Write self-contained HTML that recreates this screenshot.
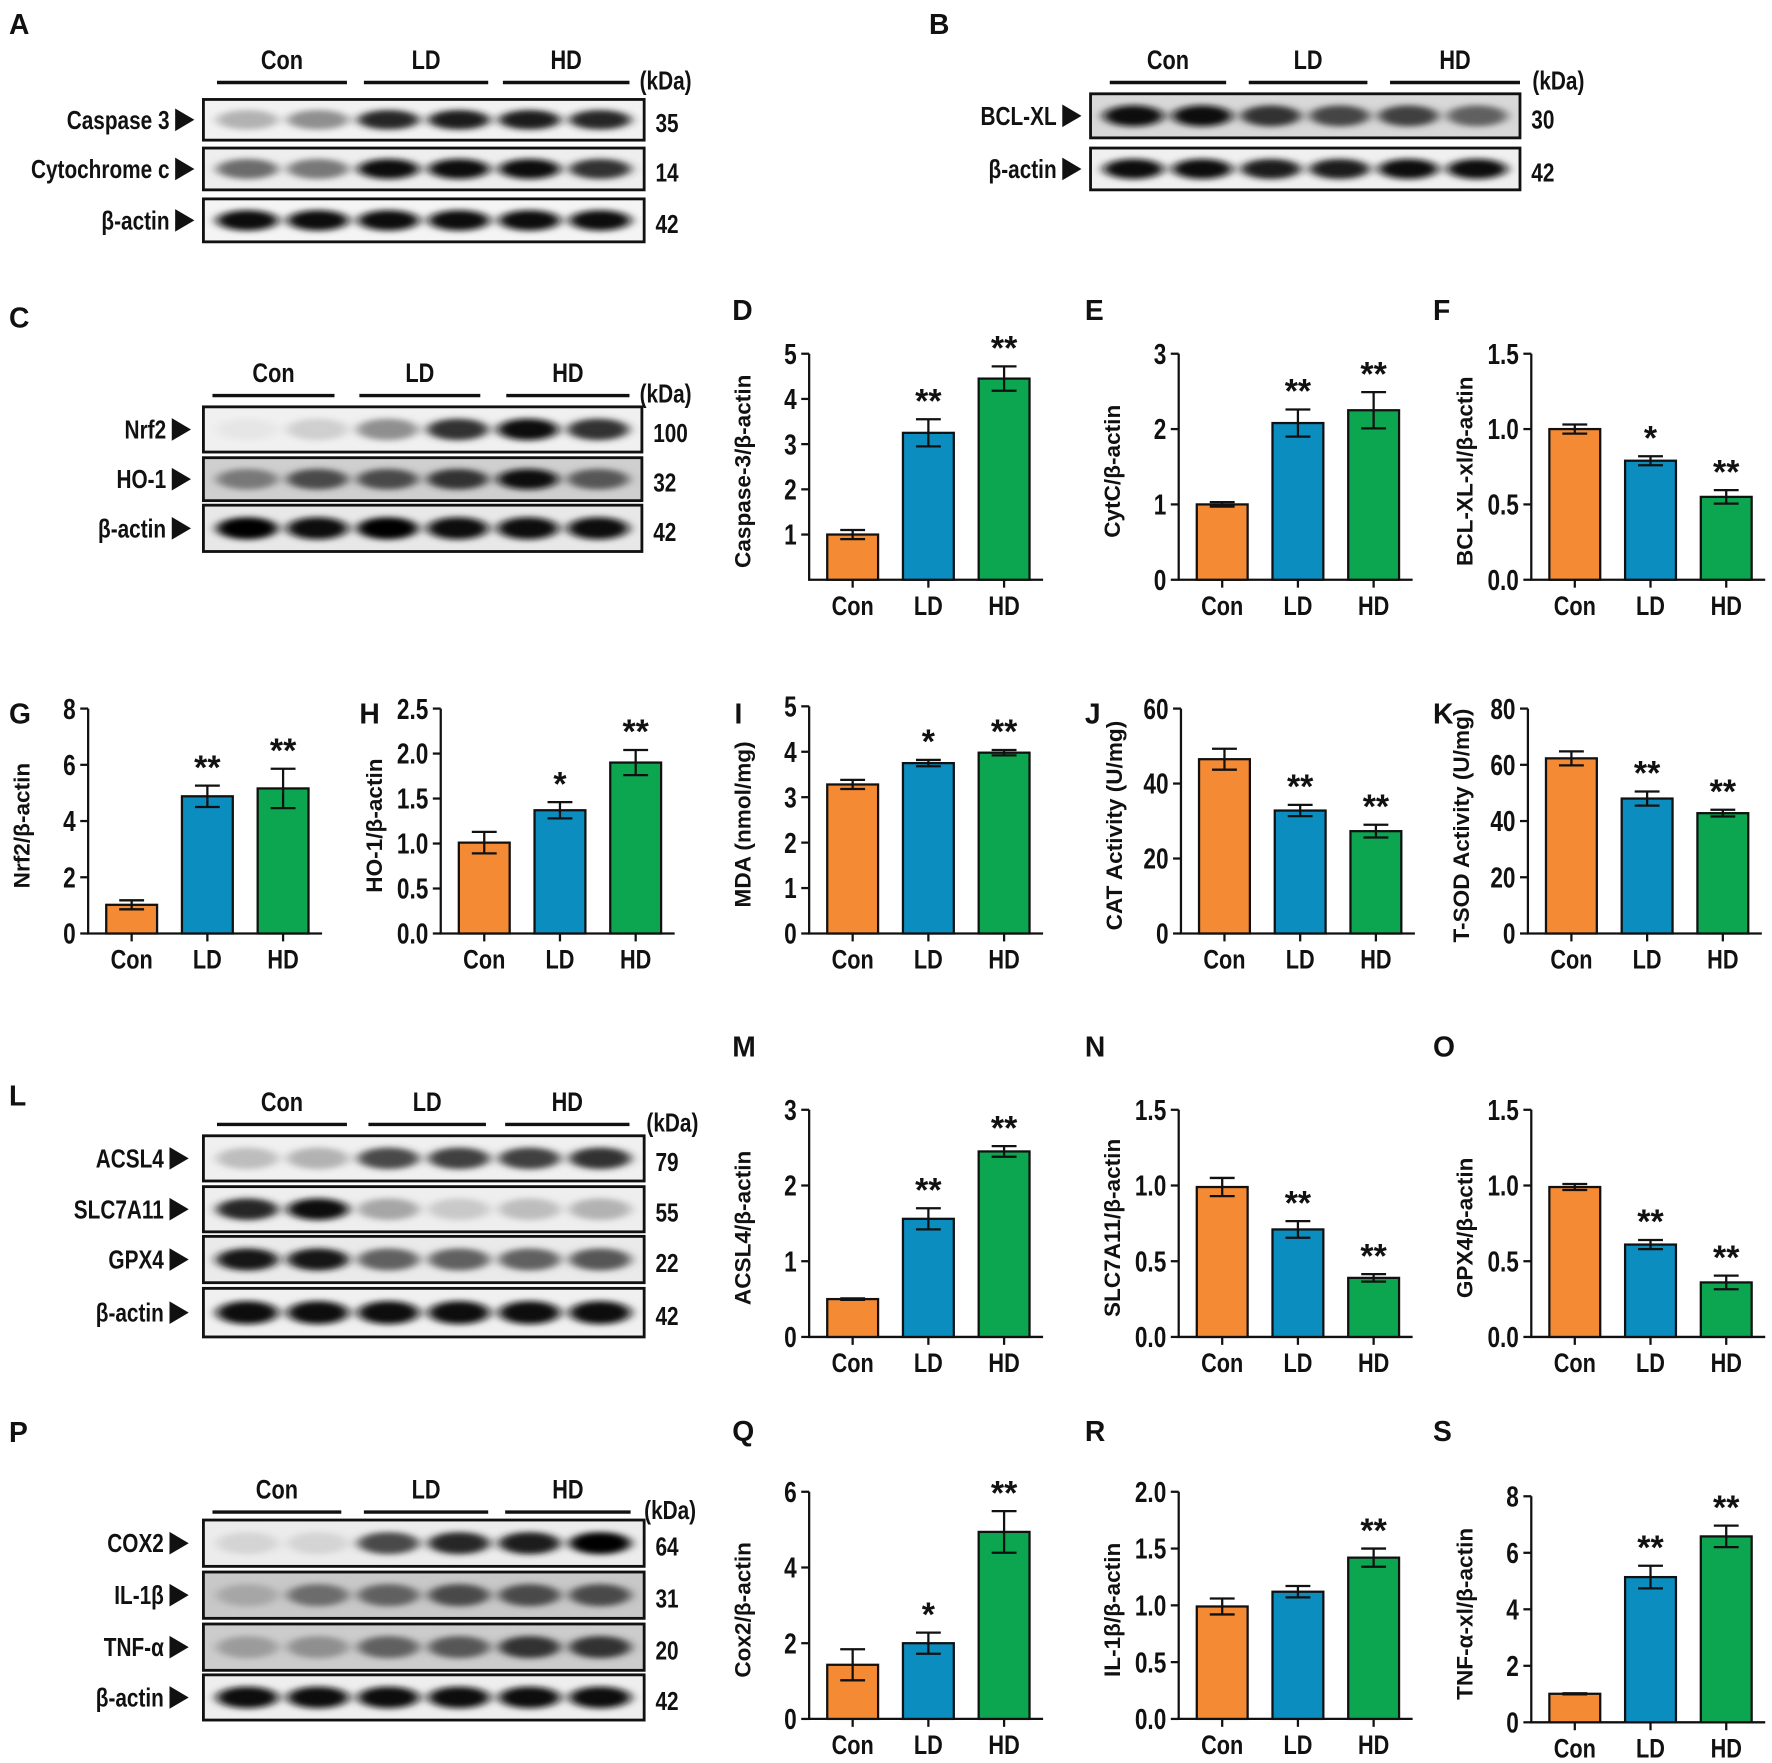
<!DOCTYPE html>
<html><head><meta charset="utf-8"><style>
html,body{margin:0;padding:0;background:#fff;}
svg{display:block;}
text{font-family:"Liberation Sans",Arial,sans-serif;font-weight:bold;fill:#111;}
</style></head><body>
<svg id="fig" xmlns="http://www.w3.org/2000/svg" width="1772" height="1763" viewBox="0 0 1568 1560" preserveAspectRatio="none">
<defs>
<filter id="blur" x="-30%" y="-100%" width="160%" height="300%"><feGaussianBlur stdDeviation="5 2.5"/></filter>
</defs>
</svg>
<script>
// ---- chart data ----
const categories = ["Con","LD","HD"];
const dValues=[1.0,3.25,4.45], dErrors=[0.1,0.3,0.27], dStars=["","**","**"], dTicks=["1","2","3","4","5"], dTickVals=[1,2,3,4,5];
const eValues=[1.0,2.08,2.25], eErrors=[0.03,0.18,0.24], eStars=["","**","**"], eTicks=["0","1","2","3"], eTickVals=[0,1,2,3];
const fValues=[1.0,0.79,0.55], fErrors=[0.03,0.03,0.045], fStars=["","*","**"], fTicks=["0.0","0.5","1.0","1.5"], fTickVals=[0,0.5,1,1.5];
const gValues=[1.02,4.88,5.16], gErrors=[0.16,0.38,0.7], gStars=["","**","**"], gTicks=["0","2","4","6","8"], gTickVals=[0,2,4,6,8];
const hValues=[1.01,1.37,1.9], hErrors=[0.12,0.09,0.14], hStars=["","*","**"], hTicks=["0.0","0.5","1.0","1.5","2.0","2.5"], hTickVals=[0,0.5,1,1.5,2,2.5];
const iValues=[3.28,3.75,3.98], iErrors=[0.1,0.07,0.06], iStars=["","*","**"], iTicks=["0","1","2","3","4","5"], iTickVals=[0,1,2,3,4,5];
const jValues=[46.5,32.8,27.3], jErrors=[2.8,1.5,1.7], jStars=["","**","**"], jTicks=["0","20","40","60"], jTickVals=[0,20,40,60];
const kValues=[62.3,48,42.8], kErrors=[2.5,2.5,1.2], kStars=["","**","**"], kTicks=["0","20","40","60","80"], kTickVals=[0,20,40,60,80];
const mValues=[0.5,1.56,2.45], mErrors=[0.01,0.14,0.07], mStars=["","**","**"], mTicks=["0","1","2","3"], mTickVals=[0,1,2,3];
const nValues=[0.99,0.71,0.39], nErrors=[0.06,0.055,0.025], nStars=["","**","**"], nTicks=["0.0","0.5","1.0","1.5"], nTickVals=[0,0.5,1,1.5];
const oValues=[0.99,0.61,0.36], oErrors=[0.02,0.03,0.045], oStars=["","**","**"], oTicks=["0.0","0.5","1.0","1.5"], oTickVals=[0,0.5,1,1.5];
const qValues=[1.43,2.0,4.94], qErrors=[0.41,0.28,0.55], qStars=["","*","**"], qTicks=["0","2","4","6"], qTickVals=[0,2,4,6];
const rValues=[0.99,1.12,1.42], rErrors=[0.07,0.05,0.08], rStars=["","","**"], rTicks=["0.0","0.5","1.0","1.5","2.0"], rTickVals=[0,0.5,1,1.5,2];
const sValues=[1.01,5.14,6.58], sErrors=[0.02,0.4,0.38], sStars=["","**","**"], sTicks=["0","2","4","6","8"], sTickVals=[0,2,4,6,8];

const NS="http://www.w3.org/2000/svg";
const svg=document.getElementById('fig');
const colors=["#F58A34","#0C8DBF","#0CA550"];
function mk(tag,attrs,parent){const e=document.createElementNS(NS,tag);for(const k in attrs)e.setAttribute(k,attrs[k]);(parent||svg).appendChild(e);return e;}
function txt(s,x,y,size,anchor,parent){const t=mk('text',{x:x,y:y,'font-size':size,'text-anchor':anchor||'start'},parent);t.textContent=s;return t;}
// condensed text (narrow bold look)
function ctxt(s,x,y,size,anchor,parent){const t=mk('text',{x:0,y:0,'font-size':size,'text-anchor':anchor||'start',transform:`translate(${x},${y}) scale(0.8,1)`},parent);t.textContent=s;return t;}

function chart(id,letter,title,ax,top,base,vals,errs,stars,tickLabels,tickVals,letterX,letterY){
  const g=mk('g',{});
  
  
  const L=txt(letter,letterX,letterY,25,'start',g);
  
  
  const maxV=tickVals[tickVals.length-1];
  const y=v=>base-(v/maxV)*(base-top);
  const bx=i=>ax+16+i*67;
  const right=ax+207;
  const ya=mk('line',{x1:ax,y1:top,x2:ax,y2:base,stroke:'#111','stroke-width':2},g);
  
  
  const xa=mk('line',{x1:ax-1,y1:base,x2:right,y2:base,stroke:'#111','stroke-width':2},g);
  
  
  tickVals.forEach((tv,k)=>{
    mk('line',{x1:ax-7,y1:y(tv),x2:ax,y2:y(tv),stroke:'#111','stroke-width':2},g);
    const t=ctxt(tickLabels[k],ax-11,y(tv)+9,25,'end',g);
    
    
  });
  const yt=txt(title,0,0,20,'middle',g);
  yt.setAttribute('transform','translate('+(ax-52)+','+((top+base)/2+4)+') rotate(-90)');
  
  
  vals.forEach((v,i)=>{
    const b=mk('rect',{x:bx(i),y:y(v),width:45,height:base-y(v),fill:colors[i],stroke:'#111','stroke-width':2},g);
    
    
    const cx=bx(i)+22.5;
    const e1=y(v+errs[i]),e2=y(v-errs[i]);
    const eb=mk('path',{d:`M${cx},${e1}V${e2}M${cx-11},${e1}H${cx+11}M${cx-11},${e2}H${cx+11}`,stroke:'#111','stroke-width':2,fill:'none'},g);
    
    
    if(stars[i]){const s=txt(stars[i],cx,e1-6,30,'middle',g);
      
      }
    mk('line',{x1:cx,y1:base,x2:cx,y2:base+7,stroke:'#111','stroke-width':2},g);
    const xl=ctxt(categories[i],cx,base+31,24,'middle',g);
    
    
  });
}
chart('d','D','Caspase-3/β-actin',716,313,513,dValues,dErrors,dStars,dTicks,dTickVals,648,283);
chart('e','E','CytC/β-actin',1043,313,513,eValues,eErrors,eStars,eTicks,eTickVals,960,283);
chart('f','F','BCL-XL-xl/β-actin',1355,313,513,fValues,fErrors,fStars,fTicks,fTickVals,1268,283);
chart('g','G','Nrf2/β-actin',78,627,826,gValues,gErrors,gStars,gTicks,gTickVals,8,640);
chart('h','H','HO-1/β-actin',390,627,826,hValues,hErrors,hStars,hTicks,hTickVals,318,640);
chart('i','I','MDA (nmol/mg)',716,625,826,iValues,iErrors,iStars,iTicks,iTickVals,650,640);
chart('j','J','CAT Activity (U/mg)',1045,627,826,jValues,jErrors,jStars,jTicks,jTickVals,960,640);
chart('k','K','T-SOD Activity (U/mg)',1352,627,826,kValues,kErrors,kStars,kTicks,kTickVals,1268,640);
chart('m','M','ACSL4/β-actin',716,982,1183,mValues,mErrors,mStars,mTicks,mTickVals,648,935);
chart('n','N','SLC7A11/β-actin',1043,982,1183,nValues,nErrors,nStars,nTicks,nTickVals,960,935);
chart('o','O','GPX4/β-actin',1355,982,1183,oValues,oErrors,oStars,oTicks,oTickVals,1268,935);
chart('q','Q','Cox2/β-actin',716,1320,1521,qValues,qErrors,qStars,qTicks,qTickVals,648,1275);
chart('r','R','IL-1β/β-actin',1043,1320,1521,rValues,rErrors,rStars,rTicks,rTickVals,960,1275);
chart('s','S','TNF-α-xl/β-actin',1355,1324,1524,sValues,sErrors,sStars,sTicks,sTickVals,1268,1275);

// ---- western blots ----
function blot(id,letter,lx,ly,x0,x1,headerY,groups,kdaX,rows){
  const g=mk('g',{});
  
  
  const L=txt(letter,lx,ly,25,'start',g);
  
  
  groups.forEach(gr=>{
    const t=ctxt(gr[0],(gr[1]+gr[2])/2,headerY-12,24,'middle',g);
    
    
    mk('line',{x1:gr[1],y1:headerY,x2:gr[2],y2:headerY,stroke:'#111','stroke-width':3},g);
  });
  const k=ctxt('(kDa)',kdaX,headerY+6,23,'start',g);
  
  
  rows.forEach(r=>{
    const [name,y0,y1,kda,ints,bg,lblEnd]=r;
    const h=y1-y0;
    mk('rect',{x:x0,y:y0,width:x1-x0,height:h,fill:bg},g);
    const w=(x1-x0);
    ints.forEach((v,i)=>{
      const cx=x0+w*(0.1+i*0.16);
      const c=Math.round(235-230*v);
      mk('ellipse',{cx:cx,cy:y0+h/2,rx:w*0.07,ry:h*0.24,fill:`rgb(${c},${c},${c})`,filter:'url(#blur)'},g);
    });
    const box=mk('rect',{x:x0,y:y0,width:x1-x0,height:h,fill:'none',stroke:'#111','stroke-width':2.5},g);
    
    
    const t=ctxt(name,lblEnd-5,y0+h/2+8,23,'end',g);
    
    
    mk('polygon',{points:`${lblEnd},${y0+h/2-10} ${lblEnd+17},${y0+h/2} ${lblEnd},${y0+h/2+10}`,fill:'#111'},g);
    const n=ctxt(kda,x1+10,y0+h/2+11,23,'start',g);
    
    
  });
}
blot('a','A',8,30,180,570,73,[['Con',192,307],['LD',322,432],['HD',445,557]],566,[
 ['Caspase 3',88,124,'35',[.25,.4,.85,.9,.9,.85],'#f2f2f2',155],
 ['Cytochrome c',131,168,'14',[.55,.5,.95,.95,.95,.8],'#eeeeee',155],
 ['β-actin',176,214,'42',[.97,.97,.95,.95,.95,.95],'#f4f4f4',155]]);
blot('b','B',822,30,965,1345,73,[['Con',982,1085],['LD',1105,1210],['HD',1230,1345]],1356,[
 ['BCL-XL',83,122,'30',[.95,.95,.8,.72,.75,.6],'#d8d8d8',940],
 ['β-actin',131,168,'42',[.95,.95,.9,.9,.95,.95],'#f0f0f0',940]]);
blot('c','C',8,290,180,568,350,[['Con',188,296],['LD',318,425],['HD',448,557]],566,[
 ['Nrf2',360,400,'100',[.02,.12,.4,.8,.95,.8],'#f0f0f0',152],
 ['HO-1',405,443,'32',[.5,.7,.7,.8,.97,.65],'#cfcfcf',152],
 ['β-actin',447,488,'42',[1,.97,1,.97,.97,.97],'#e8e8e8',152]]);
blot('l','L',8,978,180,570,995,[['Con',192,307],['LD',326,430],['HD',447,557]],572,[
 ['ACSL4',1005,1045,'79',[.2,.25,.7,.75,.75,.8],'#f0f0f0',150],
 ['SLC7A11',1050,1090,'55',[.85,.97,.3,.15,.2,.25],'#eeeeee',150],
 ['GPX4',1094,1135,'22',[.92,.92,.6,.6,.6,.65],'#eaeaea',150],
 ['β-actin',1140,1183,'42',[.95,.97,.97,.97,.95,.97],'#f0f0f0',150]]);
blot('p','P',8,1276,180,570,1338,[['Con',188,302],['LD',322,432],['HD',447,558]],570,[
 ['COX2',1345,1386,'64',[.1,.1,.7,.85,.9,1],'#ececec',150],
 ['IL-1β',1391,1432,'31',[.3,.55,.6,.7,.7,.7],'#c8c8c8',150],
 ['TNF-α',1437,1478,'20',[.35,.4,.6,.65,.8,.8],'#cccccc',150],
 ['β-actin',1482,1522,'42',[.95,.95,.95,.95,.95,.95],'#eeeeee',150]]);
</script>
</body></html>
